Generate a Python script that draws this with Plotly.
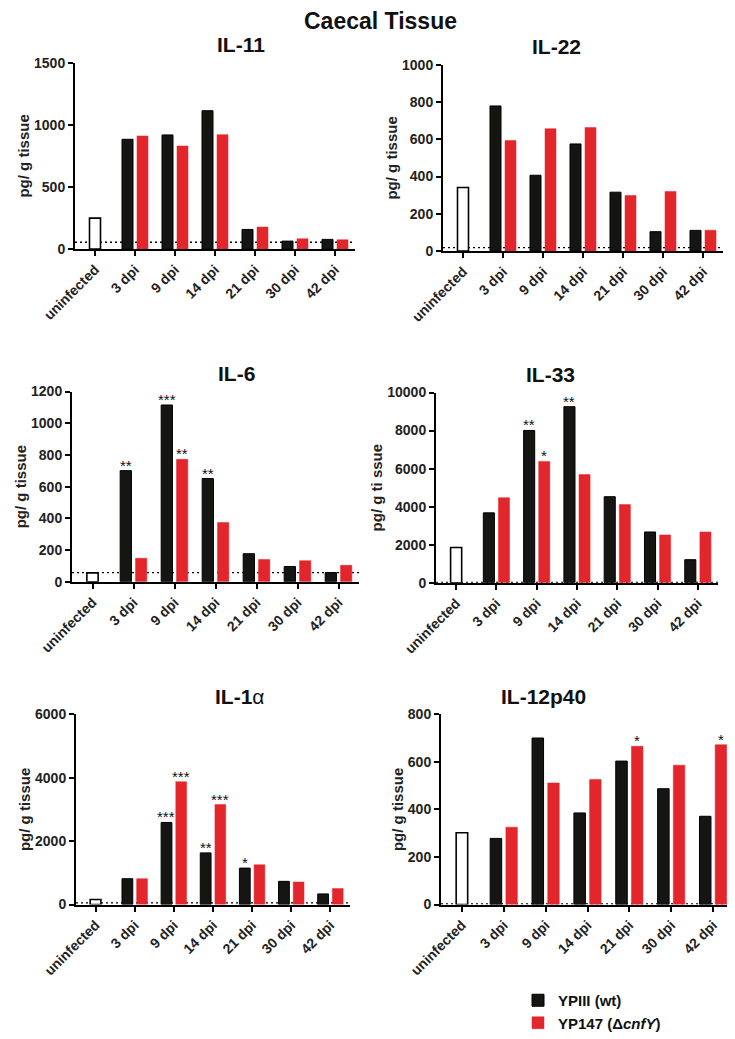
import plotly.graph_objects as go

# categories
cats = ["uninfected", "3 dpi", "9 dpi", "14 dpi", "21 dpi", "30 dpi", "42 dpi"]
dpi = cats[1:]

# IL-11
il11_uninf = 249
il11_wt = [884, 919, 1114, 158, 64, 78]
il11_mut = [911, 830, 921, 177, 83, 75]
il11_lod = 55
il11_wt_sig = ["", "", "", "", "", ""]
il11_mut_sig = ["", "", "", "", "", ""]

# IL-22
il22_uninf = 341
il22_wt = [779, 407, 575, 316, 104, 111]
il22_mut = [593, 657, 663, 298, 320, 112]
il22_lod = 18
il22_wt_sig = ["", "", "", "", "", ""]
il22_mut_sig = ["", "", "", "", "", ""]

# IL-6
il6_uninf = 56
il6_wt = [701, 1115, 651, 177, 96, 58]
il6_mut = [148, 772, 374, 141, 133, 104]
il6_lod = 58
il6_wt_sig = ["**", "***", "**", "", "", ""]
il6_mut_sig = ["", "**", "", "", "", ""]

# IL-33
il33_uninf = 1854
il33_wt = [3674, 8007, 9255, 4523, 2669, 1213]
il33_mut = [4471, 6378, 5685, 4107, 2513, 2669]
il33_lod = 20
il33_wt_sig = ["", "**", "**", "", "", ""]
il33_mut_sig = ["", "*", "", "", "", ""]

# IL-1a
il1a_uninf = 157
il1a_wt = [814, 2588, 1628, 1148, 730, 334]
il1a_mut = [814, 3871, 3151, 1252, 710, 501]
il1a_lod = 50
il1a_wt_sig = ["", "***", "**", "*", "", ""]
il1a_mut_sig = ["", "***", "***", "", "", ""]

# IL-12p40
il12_uninf = 302
il12_wt = [278, 700, 385, 603, 487, 371]
il12_mut = [325, 511, 526, 665, 586, 672]
il12_lod = 3
il12_wt_sig = ["", "", "", "", "", ""]
il12_mut_sig = ["", "", "", "*", "", "*"]

titles = ["IL-11", "IL-22", "IL-6", "IL-33", "IL-1α", "IL-12p40"]
ytitles = ["pg/ g tissue", "pg/ g tissue", "pg/ g tissue", "pg/ g ti ssue", "pg/ g tissue", "pg/ g tissue"]
ymax = [1500, 1000, 1200, 10000, 6000, 800]
ydtick = [500, 200, 200, 2000, 2000, 200]

panels = [
    (il11_uninf, il11_wt, il11_mut, il11_lod, il11_wt_sig, il11_mut_sig),
    (il22_uninf, il22_wt, il22_mut, il22_lod, il22_wt_sig, il22_mut_sig),
    (il6_uninf, il6_wt, il6_mut, il6_lod, il6_wt_sig, il6_mut_sig),
    (il33_uninf, il33_wt, il33_mut, il33_lod, il33_wt_sig, il33_mut_sig),
    (il1a_uninf, il1a_wt, il1a_mut, il1a_lod, il1a_wt_sig, il1a_mut_sig),
    (il12_uninf, il12_wt, il12_mut, il12_lod, il12_wt_sig, il12_mut_sig),
]

# page body has an 8px margin, so the figure is drawn 8px in from the window edge
OFF = 8
W, H = 735 - OFF, 1039 - OFF


def px(x):
    return (x - OFF) / W


def py(y):
    return 1 - (y - OFF) / H


# plot boxes in window pixels: x0, x1, ytop, ybottom
boxes = [(75, 355, 63, 250), (443, 723, 65, 252),
         (72, 359, 393, 584), (436, 718, 394, 585),
         (76, 350, 717, 908), (441, 734, 717, 908)]

BLACK = "#151513"
RED = "#e3252c"
FONT = "Liberation Sans, Arial, sans-serif"

fig = go.Figure()
annotations = []
shapes = []
bw = 0.275

for i, (uninf, wt, mut, lod, wsig, msig) in enumerate(panels):
    n = i + 1
    xa = "x" if n == 1 else f"x{n}"
    ya = "y" if n == 1 else f"y{n}"
    fig.add_trace(go.Bar(x=[cats[0]], y=[uninf], width=bw, offset=-bw / 2,
                         marker=dict(color="white", line=dict(color="black", width=1.6)),
                         showlegend=False, xaxis=xa, yaxis=ya))
    fig.add_trace(go.Bar(x=dpi, y=wt, width=bw, offset=-0.325, name="YPIII (wt)",
                         marker=dict(color=BLACK, line=dict(color="black", width=1)),
                         showlegend=(i == 0), xaxis=xa, yaxis=ya))
    fig.add_trace(go.Bar(x=dpi, y=mut, width=bw, offset=0.05,
                         name="YP147 (Δ<i>cnfY</i>)",
                         marker=dict(color=RED, line=dict(color=RED, width=0.5)),
                         showlegend=(i == 0), xaxis=xa, yaxis=ya))

    x0, x1, yt, yb = boxes[i]
    ax = dict(domain=[px(x0), min(px(x1), 1)], anchor=ya, type="category", automargin=False,
              categoryorder="array", categoryarray=cats, range=[-0.5, 6.5],
              showline=True, linecolor="black", linewidth=2, ticks="outside",
              ticklen=5, tickwidth=2, tickcolor="black", showgrid=False,
              tickangle=-45, tickfont=dict(family=FONT, size=14, color="#222", weight="bold"))
    ay = dict(domain=[py(yb), py(yt)], anchor=xa, range=[0, ymax[i]],
              dtick=ydtick[i], tickformat="d", automargin=False,
              showline=True, linecolor="black", linewidth=2,
              ticks="outside", ticklen=5, tickwidth=2, tickcolor="black",
              showgrid=False, zeroline=False,
              tickfont=dict(family=FONT, size=14, color="#222", weight="bold"),
              title=dict(text=ytitles[i], standoff=1,
                         font=dict(family=FONT, size=15, color="#222", weight="bold")))
    fig.update_layout({("xaxis" if n == 1 else f"xaxis{n}"): ax,
                       ("yaxis" if n == 1 else f"yaxis{n}"): ay})

    shapes.append(dict(type="line", xref=f"{xa} domain", yref=ya, x0=0, x1=1,
                       y0=lod, y1=lod, layer="below",
                       line=dict(color="black", width=1.3, dash="2px,3px")))

    annotations.append(dict(text="<b>" + titles[i] + "</b>" if i != 4 else "<b>IL-1</b>α",
                            xref="paper", yref="paper", x=px((x0 + x1) / 2),
                            y=py(yt - 18), showarrow=False, yanchor="middle",
                            font=dict(family=FONT, size=21, color="#111")))

    for j in range(6):
        for sig, val, off in ((wsig[j], wt[j], -0.19), (msig[j], mut[j], 0.19)):
            if sig:
                annotations.append(dict(text=sig, xref=xa, yref=ya, x=j + 1 + off, y=val,
                                        showarrow=False, yanchor="bottom", yshift=-5,
                                        font=dict(family=FONT, size=15, color="#111")))

annotations.append(dict(text="<b>Caecal Tissue</b>", xref="paper", yref="paper",
                        x=px(381), y=1, yshift=2, showarrow=False, yanchor="top",
                        font=dict(family=FONT, size=23, color="#111")))

fig.update_layout(
    width=W, height=H, margin=dict(l=0, r=0, t=0, b=0),
    paper_bgcolor="white", plot_bgcolor="white",
    barmode="overlay", annotations=annotations, shapes=shapes,
    font=dict(family=FONT, color="#111"),
    legend=dict(x=px(518), y=py(988), xanchor="left", yanchor="top",
                font=dict(family=FONT, size=15, color="#111", weight="bold"),
                bgcolor="rgba(0,0,0,0)", itemwidth=30, tracegroupgap=0),
)

fig.write_html("out.html")
